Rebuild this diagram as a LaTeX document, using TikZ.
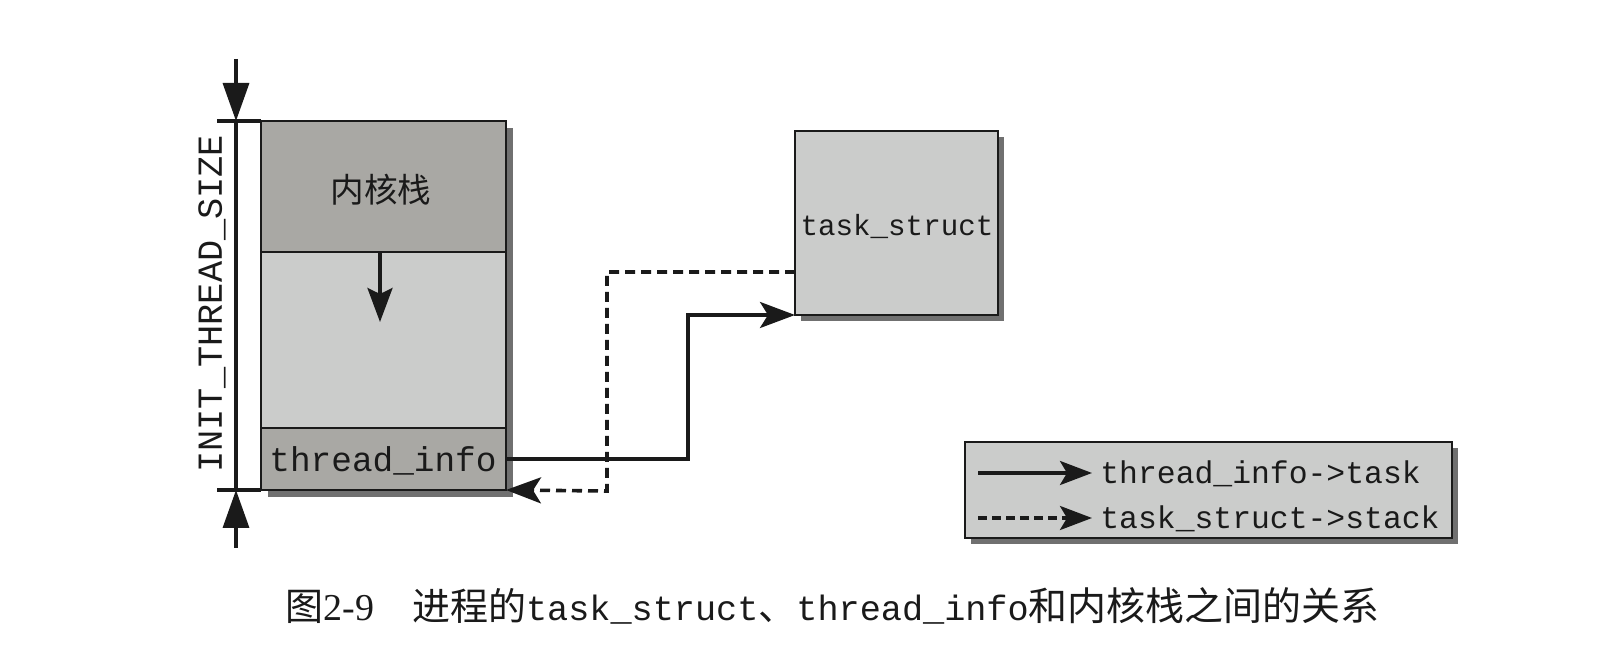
\documentclass[tikz,border=0pt]{standalone}
\usepackage{fontspec}
\setmainfont{Liberation Serif}
\setmonofont{Liberation Mono}
\newfontfamily\cjk{Noto Sans CJK SC}
\usetikzlibrary{arrows.meta,calc}
\definecolor{darkbox}{HTML}{A9A8A4}
\definecolor{lightbox}{HTML}{CBCCCB}
\definecolor{shadowc}{HTML}{707070}
\definecolor{ink}{HTML}{1A1A1A}
\begin{document}
\begin{tikzpicture}[x=0.5pt,y=-0.5pt,
  box/.style={draw=ink, line width=1.2pt, inner sep=0pt, outer sep=0pt},
  dimline/.style={draw=ink, line width=1.7pt},
  dimtip/.style={-{Triangle[length=19pt,width=13pt]}},
  conn/.style={draw=ink, line width=1.8pt, -{Stealth[length=17.5pt,width=13pt,inset=4pt]}},
  dconn/.style={conn, dash pattern=on 5pt off 3pt},
  legtip/.style={-{Stealth[length=16pt,width=12pt,inset=3.5pt]}},
  monotxt/.style={font=\ttfamily, text=ink},
]
\useasboundingbox (0,0) rectangle (1614,646);

% shadows
\fill[shadowc] (268,128) rectangle (513,497);
\fill[shadowc] (801,137) rectangle (1004,321);
\fill[shadowc] (971,448) rectangle (1458,544);

% kernel stack column
\node[box, fill=darkbox, minimum width=122.5pt, minimum height=65.5pt] (ks) at (383.5,186.5) {};
\node[box, fill=lightbox, minimum width=122.5pt, minimum height=88pt] (mid) at (383.5,340) {};
\node[box, fill=darkbox, minimum width=122.5pt, minimum height=31pt] (ti) at (383.5,459) {};
\node[text=ink, font=\cjk\fontsize{16.8pt}{18pt}\selectfont] (kslabel) at (381,190) {内核栈};
\node[monotxt, font=\ttfamily\fontsize{17.2pt}{18pt}\selectfont] (tilabel) at (383,461) {thread\_info};

% growth arrow
\draw[conn, -{Stealth[length=17pt,width=12.5pt,inset=3pt]}] (mid.north -| 380,0) -- (380,322);

% dimension
\coordinate (dimtop) at (236,59);
\coordinate (dimbot) at (236,548);
\coordinate (dimA) at (236,121);
\coordinate (dimB) at (236,490);
\draw[dimline] (217,121) -- (ks.north west);
\draw[dimline] (217,490) -- (ti.south west);
\draw[dimline] (dimA) -- (dimB);
\draw[dimline, dimtip] (dimtop) -- (dimA);
\draw[dimline, dimtip] (dimbot) -- (dimB);
\node[monotxt, font=\ttfamily\fontsize{17.6pt}{18pt}\selectfont, rotate=90] (size) at (212,304) {INIT\_THREAD\_SIZE};

% task_struct
\node[box, fill=lightbox, minimum width=101.5pt, minimum height=92pt] (ts) at (896.5,223) {};
\node[monotxt, font=\ttfamily\fontsize{14.6pt}{16pt}\selectfont] (tslabel) at (897,226) {task\_struct};

% connectors
\coordinate (b1) at (688,459);
\coordinate (b2) at (607,272);
\coordinate (b3) at (607,491);
\draw[conn] (ti.east) -- (b1) |- (ts.south west);
\draw[dconn] ([yshift=-24.5pt]ts.west) -- (b2) -- (b3) -- (ti.south east);

% legend
\node[box, fill=lightbox, minimum width=243.5pt, minimum height=48pt] (leg) at (1208.5,490) {};
\coordinate (l1a) at (978,473);
\coordinate (l1b) at (1092,473);
\coordinate (l2a) at (978,518);
\coordinate (l2b) at (1092,518);
\draw[dimline, legtip] (l1a) -- (l1b);
\draw[dimline, legtip, dash pattern=on 4.5pt off 2.5pt] (l2a) -- (l2b);
\node[monotxt, font=\ttfamily\fontsize{15.7pt}{17pt}\selectfont, anchor=west, inner sep=0pt] (lt1) at (1100,474) {thread\_info->task};
\node[monotxt, font=\ttfamily\fontsize{15.7pt}{17pt}\selectfont, anchor=west, inner sep=0pt] (lt2) at (1100,519) {task\_struct->stack};

% caption
\node[text=ink, anchor=base west, inner sep=0pt] (cap) at (285,621) {%
{\cjk\fontsize{19pt}{20pt}\selectfont 图}{\fontsize{19pt}{20pt}\selectfont 2-9}\hspace{19pt}%
{\cjk\fontsize{19pt}{20pt}\selectfont 进程的}{\ttfamily\fontsize{17.6pt}{20pt}\selectfont task\_struct}%
{\cjk\fontsize{19pt}{20pt}\selectfont 、}{\ttfamily\fontsize{17.6pt}{20pt}\selectfont thread\_info}%
{\cjk\fontsize{19.5pt}{20pt}\selectfont 和内核栈之间的关系}};
\end{tikzpicture}
\end{document}
